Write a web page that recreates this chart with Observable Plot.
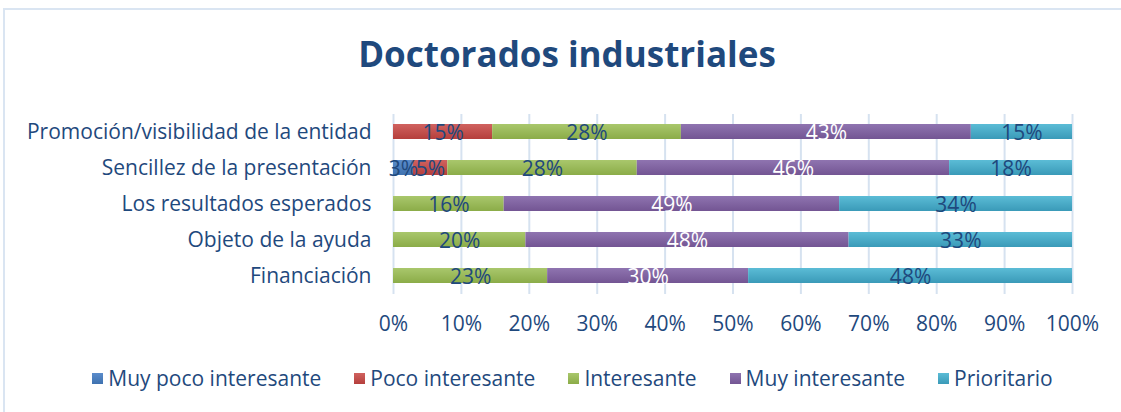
<!DOCTYPE html>
<html>
<head>
<meta charset="utf-8">
<script src="https://cdn.jsdelivr.net/npm/d3@7"></script>
<script src="https://cdn.jsdelivr.net/npm/@observablehq/plot@0.6"></script>
<style>
  html, body { margin: 0; padding: 0; background: #fff; }
  body { width: 1121px; height: 412px; position: relative; overflow: hidden; font-family: "Open Sans", "Noto Sans", sans-serif; color: #1f497d; }
  #frame { position: absolute; left: 3px; top: 8px; width: 1140px; height: 440px; border: 2px solid #dae5f2; box-sizing: border-box; }
  #title { position: absolute; left: 0; width: 1134px; top: 30px; text-align: center; font-size: 35px; font-weight: bold; color: #1f497d; line-height: 48px; }
  #chart { position: absolute; left: 0; top: 105px; }
  #legend { position: absolute; top: 364px; left: 0; width: 1145px; display: flex; justify-content: center; gap: 33px; font-size: 21px; line-height: 28px; }
  #legend span.item { display: inline-flex; align-items: center; }
  #legend span.sw { display: inline-block; width: 11px; height: 11px; margin-right: 5px; }
</style>
</head>
<body>
<div id="frame"></div>
<div id="title">Doctorados industriales</div>
<div id="chart"></div>
<div id="legend"></div>
<script>
const categories = [
  "Promoción/visibilidad de la entidad",
  "Sencillez de la presentación",
  "Los resultados esperados",
  "Objeto de la ayuda",
  "Financiación"
];
const levels = ["Muy poco interesante", "Poco interesante", "Interesante", "Muy interesante", "Prioritario"];
const muyPoco   = [0,    2.9,  0,    0,    0];
const poco      = [14.6, 5.1,  0,    0,    0];
const interes   = [27.8, 27.9, 16.3, 19.5, 22.7];
const muyInter  = [42.7, 46.0, 49.4, 47.6, 29.6];
const priorit   = [14.9, 18.1, 34.3, 32.9, 47.7];
const xTicks = [0, 10, 20, 30, 40, 50, 60, 70, 80, 90, 100];

const colorsTop = ["#5b8ccb", "#d0625f", "#a9c76c", "#8f74b0", "#5bbcd6"];
const colorsBot = ["#3f72b0", "#b53f3c", "#8bac48", "#735593", "#3a9ab8"];

const series = [muyPoco, poco, interes, muyInter, priorit];
const data = [];
categories.forEach((c, i) => {
  levels.forEach((l, j) => {
    data.push({cat: c, level: l, value: series[j][i]});
  });
});
const labelData = data.filter(d => d.value > 0);

const chart = Plot.plot({
  width: 1121,
  height: 240,
  marginLeft: 393,
  marginRight: 49,
  marginTop: 9,
  marginBottom: 51,
  style: {fontFamily: "'Open Sans', 'Noto Sans', sans-serif", fontSize: "21px", color: "#1f497d", background: "transparent"},
  x: {domain: [0, 100], ticks: xTicks, tickFormat: d => d + "%", tickSize: 0, tickPadding: 22, label: null},
  y: {domain: categories, paddingInner: 0.58, paddingOuter: 0.29, tickSize: 0, tickPadding: 22, label: null},
  color: {domain: levels, range: levels.map((l, i) => `url(#grad${i})`), type: "ordinal"},
  marks: [
    Plot.gridX(xTicks, {stroke: "#d6e2f0", strokeOpacity: 1, strokeWidth: 2}),
    Plot.barX(data, Plot.stackX({x: "value", y: "cat", fill: "level", order: levels})),
    Plot.text(labelData, Plot.stackX({
      x: "value", y: "cat", z: "level", order: levels,
      text: d => Math.round(d.value) + "%",
      fill: d => d.level === "Muy interesante" ? "#ffffff" : "#1f497d",
      fontSize: 21, dy: 1
    }))
  ]
});

// gradients
const ns = "http://www.w3.org/2000/svg";
const defs = document.createElementNS(ns, "defs");
levels.forEach((l, i) => {
  const g = document.createElementNS(ns, "linearGradient");
  g.setAttribute("id", "grad" + i);
  g.setAttribute("x1", "0"); g.setAttribute("y1", "0");
  g.setAttribute("x2", "0"); g.setAttribute("y2", "1");
  const s1 = document.createElementNS(ns, "stop");
  s1.setAttribute("offset", "0"); s1.setAttribute("stop-color", colorsTop[i]);
  const s2 = document.createElementNS(ns, "stop");
  s2.setAttribute("offset", "1"); s2.setAttribute("stop-color", colorsBot[i]);
  g.appendChild(s1); g.appendChild(s2);
  defs.appendChild(g);
});
chart.insertBefore(defs, chart.firstChild);
document.getElementById("chart").appendChild(chart);

// legend
const legend = document.getElementById("legend");
levels.forEach((l, i) => {
  const item = document.createElement("span");
  item.className = "item";
  const sw = document.createElement("span");
  sw.className = "sw";
  sw.style.background = `linear-gradient(${colorsTop[i]}, ${colorsBot[i]})`;
  item.appendChild(sw);
  item.appendChild(document.createTextNode(l));
  legend.appendChild(item);
});
</script>
</body>
</html>
